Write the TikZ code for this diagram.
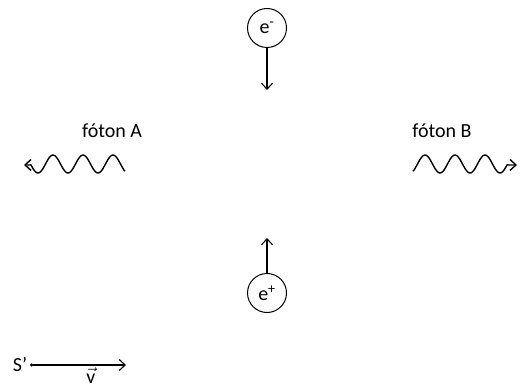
\documentclass[tikz,border=0pt]{standalone}
\usepackage{amsmath}
\usepackage{fontspec}
\setmainfont{Carlito}
\usepackage{tikz}
\usetikzlibrary{arrows.meta,positioning}

\begin{document}
\begin{tikzpicture}[
      x=1pt, y=-1pt,
      >={Straight Barb[length=6pt,width=11pt]},
      font=\fontsize{20}{22}\selectfont,
      particle/.style={draw, circle, minimum size=39pt, inner sep=0pt, line width=1pt},
      label/.style={inner sep=0pt},
      flow/.style={->, line width=1.1pt},
      wave/.style={->, line width=1.4pt, line join=round}
    ]
    \useasboundingbox (0,0) rectangle (522,390);

    \node[particle] (eminus) at (267,28) {e\textsuperscript{-}};
    \node[particle] (eplus) at (267,293) {e\textsuperscript{+}};
    \coordinate (eminusend) at (267,90);
    \coordinate (eplusend) at (267,238);

    \node[label] (photA) at (112,131) {fóton A};
    \node[label] (photB) at (442,131) {fóton B};
    \coordinate (tipA) at (24,165);
    \coordinate (tipB) at (517,165);

    \node[label] (sprime) at (20,365) {S’};
    \coordinate (vend) at (126,365);
    \node[label, anchor=base] (vel) at (91,383) {$\vec{\text{v}}$};

    \draw[flow] (eminus) -- (eminusend);
    \draw[flow] (eplus) -- (eplusend);
    \draw[wave] plot[domain=125:31, samples=90] (\x, {164+9*cos(12*(98-\x))}) -- (tipA);
    \draw[wave] plot[domain=413:507, samples=90] (\x, {164+9*cos(12*(\x-440))}) -- (tipB);
    \draw[line width=1.1pt, {Circle[length=3pt]}->] ([xshift=3pt]sprime.east) -- (vend);
  \end{tikzpicture}
\end{document}
